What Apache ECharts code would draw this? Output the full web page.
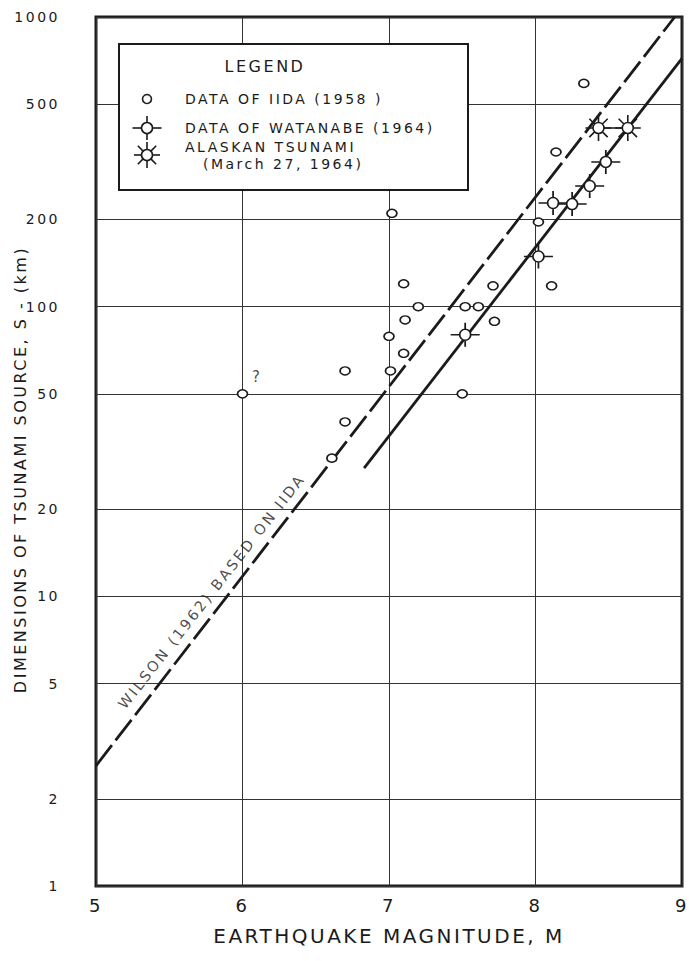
<!DOCTYPE html>
<html>
<head>
<meta charset="utf-8">
<script src="https://cdn.jsdelivr.net/npm/echarts@6.0.0/dist/echarts.min.js"></script>
<style>
  html, body { margin: 0; background: #fff; }
  #chart { width: 689px; height: 961px; }
  #chart text { letter-spacing: 2.5px; }
</style>
</head>
<body>
<div id="chart"></div>
<script>
// source size S (km) against magnitude M
const iida = [
  [6.00, 50], [6.70, 60], [6.70, 40], [6.61, 30], [7.00, 79], [7.01, 60],
  [7.10, 69], [7.11, 90], [7.10, 120], [7.20, 100], [7.02, 210], [7.52, 100],
  [7.61, 100], [7.71, 118], [7.72, 89], [7.50, 50], [8.02, 196], [8.14, 342],
  [8.11, 118], [8.33, 590]
];
const watanabe = [[7.52, 80], [8.02, 149], [8.12, 228], [8.25, 226], [8.37, 261], [8.48, 316]];
const alaska = [[8.43, 414], [8.63, 414]];
const wilsonLine = [[5, 2.6], [8.95, 1000]];
const fitLine = [[6.83, 27.7], [9, 720]];
const yTicks = [1, 2, 5, 10, 20, 50, 100, 200, 500, 1000];
const noteText = ['?', 'WILSON (1962) BASED ON IIDA'];
const notePos = [[6.1, 57], [5.79, 10.4]];

const INK = '#1b1b1b';
const FONT = 'DejaVu Sans';
const CROSS = 'M9,12 A5.5,5.5 0 1,0 20,12 A5.5,5.5 0 1,0 9,12 Z M0,12 L9,12 M20,12 L29,12 M14.5,0 L14.5,6.5 M14.5,17.5 L14.5,24';
const STAR = 'M7.5,13 A5.5,5.5 0 1,0 18.5,13 A5.5,5.5 0 1,0 7.5,13 Z ' +
  'M18.5,13 L26,13 M7.5,13 L0,13 M13,7.5 L13,0 M13,18.5 L13,26 ' +
  'M16.89,9.11 L22.19,3.81 M9.11,9.11 L3.81,3.81 M9.11,16.89 L3.81,22.19 M16.89,16.89 L22.19,22.19';

const mark = { color: '#fff', borderColor: INK, borderWidth: 1.6, opacity: 1 };
const stroke = { stroke: INK, lineWidth: 1.6 };

const chart = echarts.init(document.getElementById('chart'), null, { renderer: 'svg' });

// legend icon: open circle with arms at given angles (deg), arm from r to R
function icon(cy, r, arms) {
  const els = [{ type: 'circle', z: 102, shape: { cx: 147, cy: cy, r: r }, style: Object.assign({ fill: '#fff' }, stroke) }];
  arms.forEach(([a, R]) => {
    const c = Math.cos(a * Math.PI / 180), s = -Math.sin(a * Math.PI / 180);
    els.push({ type: 'line', z: 101,
      shape: { x1: 147 + c * r, y1: cy + s * r, x2: 147 + c * R, y2: cy + s * R }, style: stroke });
  });
  return els;
}
function text(x, y, t, size) {
  return { type: 'text', z: 101, x: x, y: y,
    style: { text: t, fill: INK, font: (size || 14) + 'px ' + FONT, align: 'left', verticalAlign: 'middle' } };
}

chart.setOption({
  backgroundColor: '#fff',
  animation: false,
  grid: { left: 96, right: 7, top: 17, bottom: 75, outerBoundsMode: 'none',
    show: true, borderColor: INK, borderWidth: 3 },
  xAxis: {
    type: 'value', min: 5, max: 9, interval: 1,
    name: 'EARTHQUAKE MAGNITUDE, M', nameLocation: 'middle', nameGap: 40, nameMoveOverlap: false,
    nameTextStyle: { color: INK, fontFamily: FONT, fontSize: 20 },
    axisLine: { show: false }, axisTick: { show: false },
    axisLabel: { color: INK, fontFamily: FONT, fontSize: 18, margin: 10 },
    splitLine: { lineStyle: { color: '#333', width: 1 } }
  },
  yAxis: {
    type: 'log', logBase: 10, min: 1, max: 1000,
    name: 'DIMENSIONS OF TSUNAMI SOURCE, S - (km)', nameLocation: 'middle', nameGap: 68, nameMoveOverlap: false,
    nameTextStyle: { color: INK, fontFamily: FONT, fontSize: 16, padding: [0, 36, 0, 0] },
    axisLine: { show: false },
    axisTick: { show: false, customValues: yTicks },
    axisLabel: { color: INK, fontFamily: FONT, fontSize: 14, margin: 36, customValues: yTicks,
      formatter: v => String(v) },
    splitLine: { lineStyle: { color: '#333', width: 1 } }
  },
  graphic: [
    { type: 'rect', z: 100, shape: { x: 119, y: 44, width: 349, height: 146 },
      style: { fill: '#fff', stroke: INK, lineWidth: 2 } },
    { type: 'text', z: 101, x: 265, y: 66,
      style: { text: 'LEGEND', fill: INK, font: '16px ' + FONT, align: 'center', verticalAlign: 'middle' } },
    text(185, 99, 'DATA OF IIDA (1958 )'),
    text(185, 128, 'DATA OF WATANABE (1964)'),
    text(185, 147, 'ALASKAN TSUNAMI'),
    text(203, 164, '(March 27, 1964)')
  ].concat(
    icon(99, 4.5, []),
    icon(128, 5.5, [[0, 14.5], [180, 14.5], [90, 12], [270, 12]]),
    icon(155, 5.5, [[0, 13], [45, 13], [90, 13], [135, 13], [180, 13], [225, 13], [270, 13], [315, 13]])
  ),
  series: [
    { name: 'WILSON (1962)', type: 'line', data: wilsonLine, symbol: 'none', z: 3,
      lineStyle: { color: INK, width: 2.8, type: [26, 6] } },
    { name: 'fit', type: 'line', data: fitLine, symbol: 'none', z: 3,
      lineStyle: { color: INK, width: 2.8 } },
    { name: 'alaska range', type: 'line', data: alaska, symbol: 'none', z: 3,
      lineStyle: { color: INK, width: 1.4 } },
    { name: 'DATA OF IIDA (1958)', type: 'scatter', data: iida, z: 4,
      symbol: 'circle', symbolSize: [10, 8], itemStyle: mark },
    { name: 'DATA OF WATANABE (1964)', type: 'scatter', data: watanabe, z: 5,
      symbol: 'path://' + CROSS, symbolSize: [29, 24], itemStyle: mark },
    { name: 'ALASKAN TSUNAMI', type: 'scatter', data: alaska, z: 5,
      symbol: 'path://' + STAR, symbolSize: [26, 26], itemStyle: mark },
    { name: 'notes', type: 'scatter', symbolSize: 0, z: 6, silent: true,
      data: noteText.map((t, i) => ({
        name: t, value: notePos[i],
        label: { fontSize: i ? 14.5 : 15, rotate: i ? 52 : 0 }
      })),
      label: { show: true, position: 'inside', formatter: '{b}', color: INK, fontFamily: FONT } }
  ]
});
</script>
</body>
</html>
